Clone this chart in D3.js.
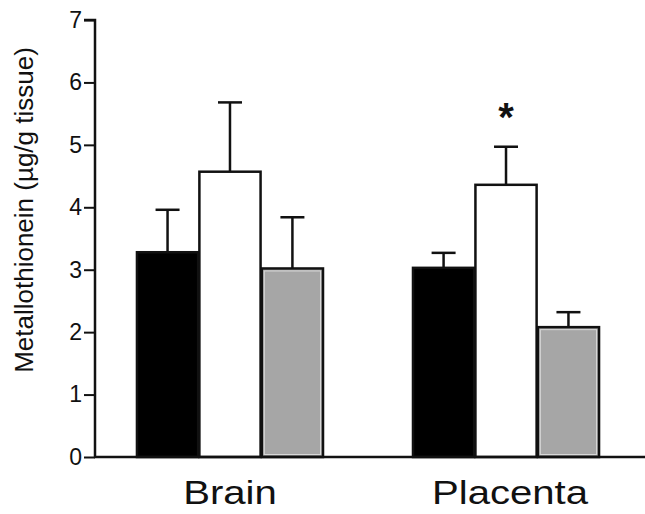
<!DOCTYPE html>
<html>
<head>
<meta charset="utf-8">
<script src="https://cdn.jsdelivr.net/npm/d3@7"></script>
<style>
  html, body { margin: 0; padding: 0; background: #fff; }
  text { font-family: "Liberation Sans", Arial, sans-serif; }
</style>
</head>
<body>
<div id="chart"></div>
<script>
// data
const tissues = ['Brain', 'Placenta'];
const groups = ['control', 'treated', 'other'];
const means = {
  Brain:    [3.28, 4.57, 3.02],
  Placenta: [3.03, 4.36, 2.08]
};
const sem = {
  Brain:    [0.68, 1.11, 0.82],
  Placenta: [0.24, 0.61, 0.24]
};
const significant = { Placenta: [false, true, false], Brain: [false, false, false] };
const yTicks = [0, 1, 2, 3, 4, 5, 6, 7];

const W = 645, H = 514;
const fills = { control: '#000', treated: '#fff', other: '#a6a6a6' };

const svg = d3.select('#chart').append('svg')
  .attr('width', W).attr('height', H);

const y = d3.scaleLinear().domain([0, 7]).range([457, 20]);

const x = d3.scaleBand()
  .domain(tissues)
  .range([95, 641])
  .paddingInner(0.326)
  .paddingOuter(0.152);

const xSub = d3.scaleBand()
  .domain(groups)
  .range([0, x.bandwidth()])
  .paddingInner(0.02);

const rows = tissues.flatMap(t => groups.map((g, i) => ({
  tissue: t, group: g, value: means[t][i], err: sem[t][i], star: significant[t][i]
})));

const bars = svg.append('g');

// error bars (upper only)
const eb = bars.selectAll('g.err').data(rows).join('g').attr('class', 'err')
  .attr('transform', d => `translate(${x(d.tissue) + xSub(d.group) + xSub.bandwidth() / 2},0)`);
eb.append('line')
  .attr('y1', d => y(d.value)).attr('y2', d => y(d.value + d.err))
  .attr('stroke', '#111').attr('stroke-width', 2.5);
eb.append('line')
  .attr('x1', -12).attr('x2', 12)
  .attr('y1', d => y(d.value + d.err)).attr('y2', d => y(d.value + d.err))
  .attr('stroke', '#111').attr('stroke-width', 2.5);

// bars
bars.selectAll('rect.bar').data(rows).join('rect')
  .attr('class', 'bar')
  .attr('x', d => x(d.tissue) + xSub(d.group))
  .attr('y', d => y(d.value))
  .attr('width', xSub.bandwidth())
  .attr('height', d => y(0) - y(d.value))
  .attr('fill', d => fills[d.group])
  .attr('stroke', '#111')
  .attr('stroke-width', 2.5);

// inner light rim on gray bars
bars.selectAll('rect.rim').data(rows.filter(d => d.group === 'other')).join('rect')
  .attr('class', 'rim')
  .attr('x', d => x(d.tissue) + xSub(d.group) + 2.5)
  .attr('y', d => y(d.value) + 2.5)
  .attr('width', xSub.bandwidth() - 5)
  .attr('height', d => y(0) - y(d.value) - 5)
  .attr('fill', 'none')
  .attr('stroke', '#d8d8d8')
  .attr('stroke-width', 1);

// significance marker
svg.selectAll('text.star').data(rows.filter(d => d.star)).join('text')
  .attr('class', 'star')
  .attr('x', d => x(d.tissue) + xSub(d.group) + xSub.bandwidth() / 2)
  .attr('y', d => y(d.value + d.err) - 16)
  .attr('text-anchor', 'middle')
  .attr('font-size', '40px')
  .attr('font-weight', 'bold')
  .attr('fill', '#111')
  .text('*');

// y axis
svg.append('g')
  .attr('transform', 'translate(95,0)')
  .call(d3.axisLeft(y).tickValues(yTicks).tickSize(11).tickPadding(2).tickFormat(d3.format('d')))
  .call(ax => ax.select('.domain').attr('stroke', '#111').attr('stroke-width', 2.5)
    .attr('d', `M-11,${y(7)}H0V${y(0)}`))
  .call(ax => ax.selectAll('.tick line').attr('stroke', '#111').attr('stroke-width', 2))
  .call(ax => ax.selectAll('.tick text')
    .attr('font-size', '23px').attr('fill', '#111')
    .style('font-family', '"Liberation Sans", Arial, sans-serif'));

// x baseline
svg.append('line')
  .attr('x1', 94).attr('x2', W)
  .attr('y1', y(0)).attr('y2', y(0))
  .attr('stroke', '#111').attr('stroke-width', 2.5);

// category labels (source figure is a little stretched horizontally)
svg.selectAll('text.cat').data(tissues).join('text')
  .attr('class', 'cat')
  .attr('transform', (d, i) => `translate(${x(d) + x.bandwidth() / 2 + i * 4},504) scale(1.18,1)`)
  .attr('text-anchor', 'middle')
  .attr('font-size', '34px')
  .attr('fill', '#111')
  .text(d => d);

// y label
svg.append('text')
  .attr('transform', 'translate(33,210) rotate(-90)')
  .attr('text-anchor', 'middle')
  .attr('font-size', '26px')
  .attr('fill', '#111')
  .text('Metallothionein (µg/g tissue)');
</script>
</body>
</html>
